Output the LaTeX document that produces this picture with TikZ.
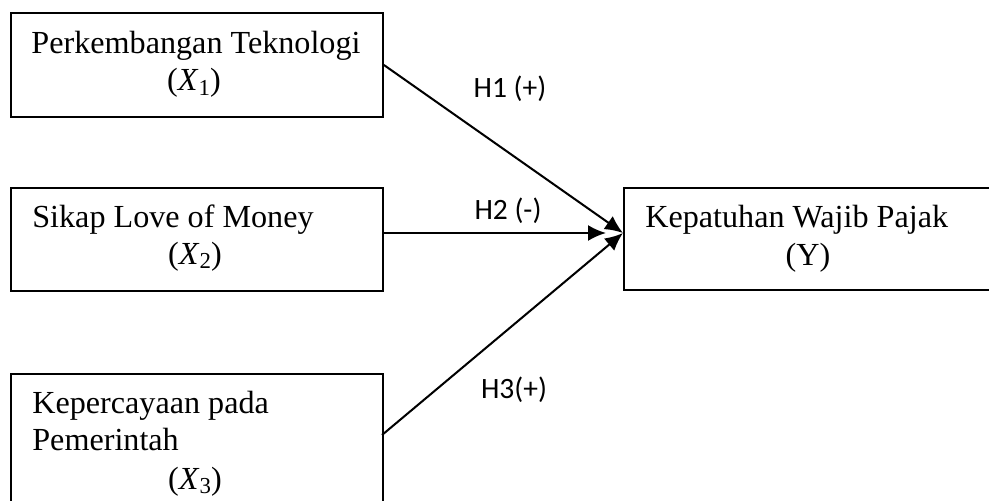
\documentclass[tikz,border=0pt]{standalone}
\usepackage{fontspec}
\setmainfont{Liberation Serif}
\newfontfamily\labelfont{Carlito}
\usetikzlibrary{arrows.meta}

\newcommand{\xvar}[1]{\textit{X}\raisebox{-0.3ex}{\fontsize{13pt}{13pt}\selectfont #1}}

\tikzset{
  varbox/.style={draw, rectangle, line width=1.1pt, anchor=north west, minimum width=7.44cm},
  vartext/.style={inner sep=0pt, font=\fontsize{18.3pt}{22pt}\selectfont},
  hyplabel/.style={inner sep=0pt, font=\labelfont\fontsize{16.8pt}{19pt}\selectfont},
  hyparrow/.style={line width=1.15pt, -{Latex[length=3.6mm,width=3.2mm]}}
}

\begin{document}
\begin{tikzpicture}[x=0.02cm, y=-0.02cm]
\useasboundingbox (0,0) rectangle (989,500);
\clip (0,0) rectangle (989,500);
% boxes
\node[varbox, minimum height=2.08cm] (x1) at (10,12) {};
\node[varbox, minimum height=2.06cm] (x2) at (10,187) {};
\node[varbox, minimum height=2.8cm] (x3) at (10,373) {};
\node[varbox, minimum height=2.04cm] (y) at (623,187) {};
% box texts
\node[vartext, anchor=base] (x1a) at (196,53) {Perkembangan Teknologi};
\node[vartext, anchor=base] (x1b) at (194,91) {(\xvar{1})};
\node[vartext, anchor=base west] (x2a) at (32,227) {Sikap Love of Money};
\node[vartext, anchor=base] (x2b) at (195,264) {(\xvar{2})};
\node[vartext, anchor=base west] (x3a) at (32,413) {Kepercayaan pada};
\node[vartext, anchor=base west] (x3b) at (32,450) {Pemerintah};
\node[vartext, anchor=base] (x3c) at (195,489) {(\xvar{3})};
\node[vartext, anchor=base west] (ya) at (645,227) {Kepatuhan Wajib Pajak};
\node[vartext, anchor=base] (yb) at (808,265) {(Y)};
% arrows
\coordinate (tip) at (623,233);
\coordinate (s3) at (382,435);
\draw[hyparrow] (x1.east) -- (tip);
\draw[hyparrow, shorten >=0.34cm] (x2.east |- tip) -- (tip);
\draw[hyparrow] (s3) -- (tip);
% hypothesis labels
\node[hyplabel] (h1) at (510,89) {H1 (+)};
\node[hyplabel] (h2) at (508,211) {H2 (-)};
\node[hyplabel] (h3) at (514,390) {H3(+)};
\end{tikzpicture}
\end{document}
